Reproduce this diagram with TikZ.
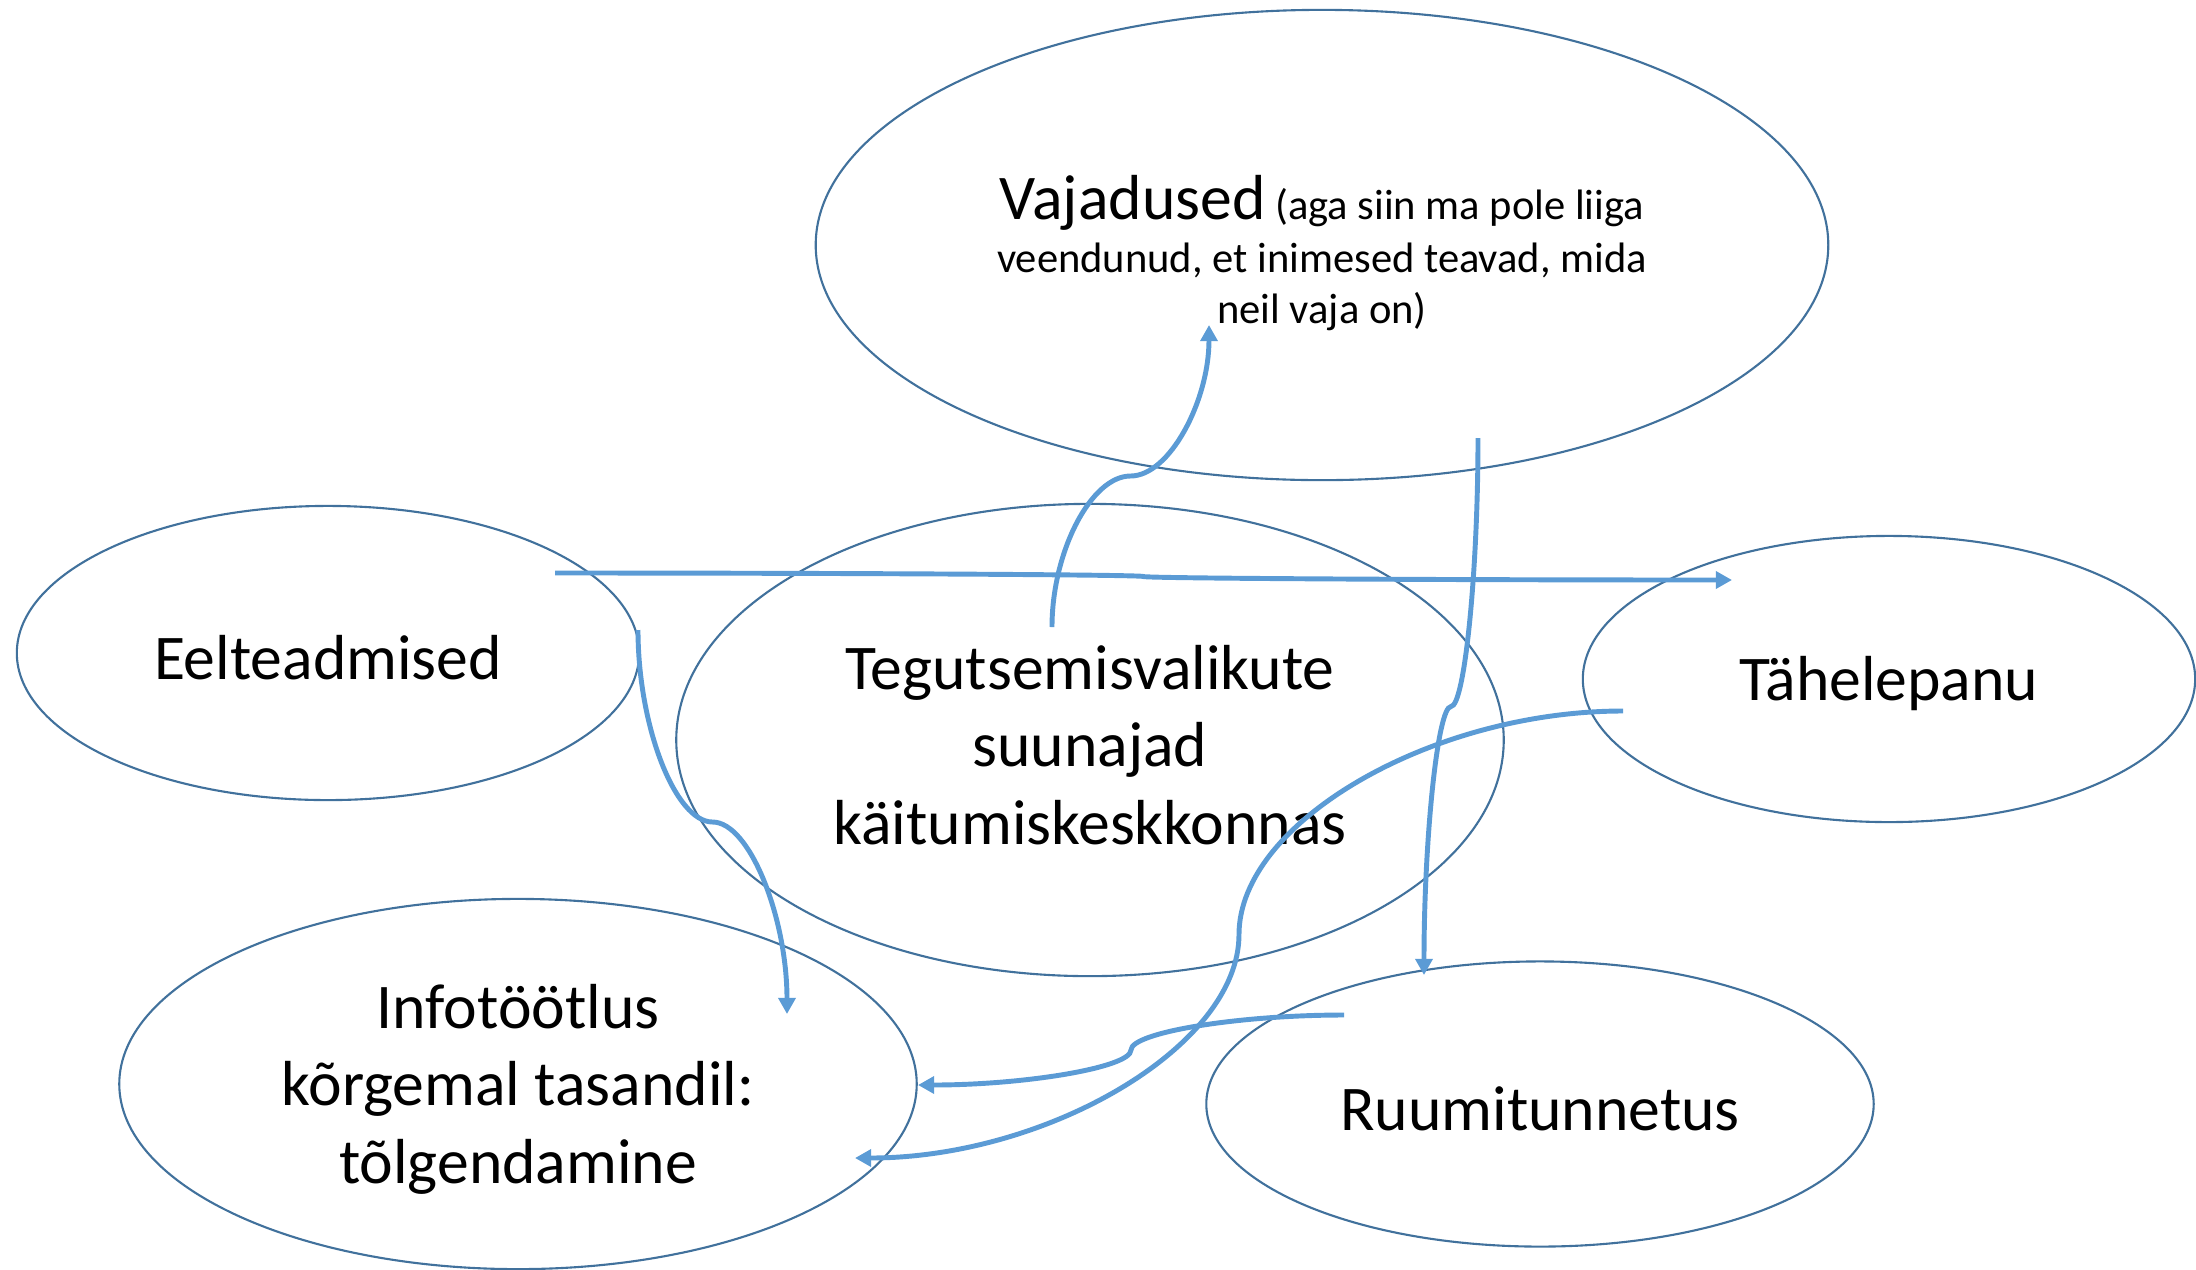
\documentclass[tikz,border=0pt]{standalone}
\usepackage{fontspec}
\setmainfont{Carlito}
\usetikzlibrary{arrows.meta,calc,shapes.geometric}

\definecolor{ringblue}{HTML}{41719C}
\definecolor{linkblue}{HTML}{5B9BD5}

% curved link that leaves its start sideways
\newcommand{\hlink}[2]{%
  \draw[link] let \p1=(#1), \p2=(#2), \p3=($(#1)!0.5!(#2)$) in
    (\p1) .. controls ({(\x1+\x3)/2},\y1) and (\x3,{(\y1+\y3)/2}) .. (\p3)
    .. controls (\x3,{(\y3+\y2)/2}) and ({(\x3+\x2)/2},\y2) .. (\p2);}
% curved link that leaves its start up or down
\newcommand{\vlink}[2]{%
  \draw[link] let \p1=(#1), \p2=(#2), \p3=($(#1)!0.5!(#2)$) in
    (\p1) .. controls (\x1,{(\y1+\y3)/2}) and ({(\x1+\x3)/2},\y3) .. (\p3)
    .. controls ({(\x3+\x2)/2},\y3) and (\x2,{(\y3+\y2)/2}) .. (\p2);}

\begin{document}
\begin{tikzpicture}[x=0.01cm, y=-0.01cm, >={Triangle[length=4.6pt,width=4.8pt]},
    bubble/.style={draw=ringblue, line width=0.6pt, ellipse, inner sep=0pt},
    txt/.style={align=center, inner sep=0pt, yshift=-0.05cm,
      font=\fontsize{18.1}{22}\selectfont},
    link/.style={draw=linkblue, line width=1.4pt, ->}]
    %% Background
    \useasboundingbox (0,0) rectangle (2196,1269);

    %% Bubbles
    \node[bubble, minimum width=10.12cm, minimum height=4.7cm] (vaj) at (1322,245) {};
    \node[bubble, minimum width=6.22cm, minimum height=2.94cm] (eel) at (328,653) {};
    \node[bubble, minimum width=8.27cm, minimum height=4.72cm] (teg) at (1090,740) {};
    \node[bubble, minimum width=6.12cm, minimum height=2.86cm] (tah) at (1889,679) {};
    \node[bubble, minimum width=7.97cm, minimum height=3.7cm] (info) at (518,1084) {};
    \node[bubble, minimum width=6.67cm, minimum height=2.85cm] (ruum) at (1540,1104) {};

    %% Texts
    \node[txt, yshift=-0.03cm, font=\fontsize{12.1}{14.5}\selectfont] (vaj-t) at (vaj)
      {{\fontsize{18.1}{22}\selectfont Vajadused} (aga siin ma pole liiga\\[0.6pt]
       veendunud, et inimesed teavad, mida\\ neil vaja on)};
    \node[txt] (eel-t) at (eel) {Eelteadmised};
    \node[txt] (teg-t) at (teg) {Tegutsemisvalikute\\ suunajad\\ käitumiskeskkonnas};
    \node[txt] (tah-t) at (tah) {Tähelepanu};
    \node[txt] (info-t) at (info) {Infotöötlus\\ kõrgemal tasandil:\\ tõlgendamine};
    \node[txt] (ruum-t) at (ruum) {Ruumitunnetus};

    %% Link ends
    \coordinate (eelS) at (555,573);
    \coordinate (tahE) at (1732,580);
    \coordinate (tegS) at (1052,627);
    \coordinate (vajE) at (1209,325);
    \coordinate (eelS2) at (638,630);
    \coordinate (infoE) at (787,1014);
    \coordinate (vajS) at (1478,438);
    \coordinate (ruumE) at (1424,975);
    \coordinate (tahS) at (1623,711);
    \coordinate (infoE2) at (855,1158);
    \coordinate (ruumS) at (1344,1015);
    \coordinate (infoE3) at (918,1085);

    %% Links
    \hlink{eelS}{tahE}
    \vlink{tegS}{vajE}
    \vlink{eelS2}{infoE}
    \vlink{vajS}{ruumE}
    \hlink{tahS}{infoE2}
    \hlink{ruumS}{infoE3}

\end{tikzpicture}
\end{document}
